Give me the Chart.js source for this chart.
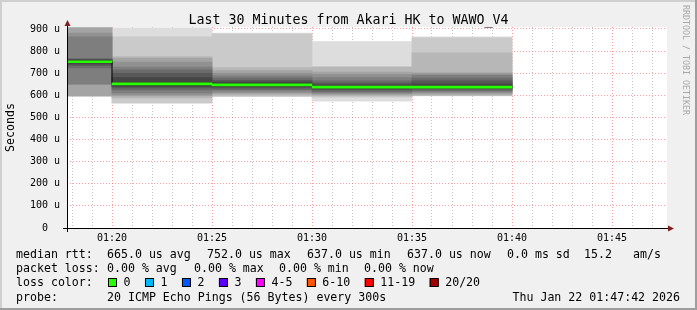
<!DOCTYPE html>
<html>
<head>
<meta charset="utf-8">
<script src="https://cdn.jsdelivr.net/npm/chart.js@4.4.0/dist/chart.umd.min.js"></script>
<style>
    html, body { margin: 0; padding: 0; background: #f0f0f0; }
    canvas { display: block; }
</style>
</head>
<body>
<canvas id="smokeChart" width="697" height="310"></canvas>
<script>
// time axis in minutes after 01:00, each block is one 300s step
var blockStarts = [15, 20, 25, 30, 35];
var blockEnd = 40;
var medianRtt = [752, 652, 647, 637, 637]; // us

// 20 sorted ping times (us) per step
var pings1 = [597, 597, 597, 597, 651, 651, 724, 735, 742, 748, 756, 760, 763, 766, 864, 882, 905, 905, 905, 905];
var pings2 = [565, 566, 588, 597, 602, 611, 624, 633, 640, 646, 658, 680, 700, 715, 728, 750, 769, 775, 864, 905];
var pings3 = [594, 595, 600, 606, 612, 620, 626, 632, 638, 642, 652, 660, 668, 678, 688, 700, 712, 725, 878, 882];
var pings4 = [574, 592, 597, 602, 607, 612, 618, 624, 629, 633, 641, 648, 655, 665, 680, 695, 705, 728, 730, 843];
var pings5 = [597, 598, 600, 605, 611, 616, 622, 628, 632, 634, 640, 652, 665, 678, 690, 697, 702, 792, 860, 865];

var yMajorValues = [0, 100, 200, 300, 400, 500, 600, 700, 800, 900];
var yTickLabels = ['0  ', '100 u', '200 u', '300 u', '400 u', '500 u', '600 u', '700 u', '800 u', '900 u'];
var xMajorValues = [20, 25, 30, 35, 40, 45];
var xTickLabels = ['01:20', '01:25', '01:30', '01:35', '01:40', '01:45'];

var lossLabels = ['0', '1', '2', '3', '4-5', '6-10', '11-19', '20/20'];
var lossColors = ['#26ff00', '#00b8ff', '#0059ff', '#5e00ff', '#ff00ff', '#ff5500', '#ff0000', '#a10000'];

var smokeGrays = ['#dddddd', '#cacaca', '#b7b7b7', '#a4a4a4', '#919191', '#7e7e7e', '#6b6b6b', '#585858', '#454545', '#323232'];

var MONO = '"DejaVu Sans Mono", monospace';
var STEP_PX = 100; // one 5 minute step at 20 px per minute

var blocks = [pings1, pings2, pings3, pings4, pings5];
var datasets = [];

for (var k = 0; k < 10; k++) {
    datasets.push({
        type: 'bar',
        data: blocks.map(function (p, b) {
            return { x: blockStarts[b] + 2.5, y: [p[k], p[19 - k]] };
        }),
        backgroundColor: smokeGrays[k],
        borderWidth: 0,
        barThickness: STEP_PX,
        grouped: false,
        clip: 0,
        order: 20 - k
    });
}

// thin black step joining the medians
datasets.push({
    type: 'line',
    data: blockStarts.concat([blockEnd]).map(function (t, i) {
        return { x: t, y: medianRtt[Math.min(i, medianRtt.length - 1)] };
    }),
    stepped: 'before',
    borderColor: '#000000',
    borderWidth: 1,
    pointRadius: 0,
    fill: false,
    clip: 0,
    order: 2
});

// green median (0 loss colour)
datasets.push({
    type: 'bar',
    data: medianRtt.map(function (m, b) {
        return { x: blockStarts[b] + 2.5, y: [m - 4.5, m + 4.5] };
    }),
    backgroundColor: lossColors[0],
    borderWidth: 0,
    barThickness: STEP_PX,
    grouped: false,
    clip: 0,
    order: 1
});

var frame = {
    id: 'frame',
    beforeDraw: function (chart) {
        var c = chart.ctx, a = chart.chartArea, w = chart.width, h = chart.height;
        c.save();
        c.fillStyle = '#f0f0f0';
        c.fillRect(0, 0, w, h);
        c.fillStyle = '#cfcfcf';
        c.fillRect(0, 0, w, 2);
        c.fillRect(0, 0, 2, h);
        c.fillStyle = '#9e9e9e';
        c.fillRect(0, h - 2, w, 2);
        c.fillRect(w - 2, 0, 2, h);
        c.fillStyle = '#ffffff';
        c.fillRect(a.left, a.top, a.right - a.left, a.bottom - a.top);
        c.restore();
    },
    afterDraw: function (chart) {
        var c = chart.ctx, a = chart.chartArea;
        c.save();
        // axes
        c.strokeStyle = '#000000';
        c.lineWidth = 1;
        c.beginPath();
        c.moveTo(a.left - 4, a.bottom + 0.5);
        c.lineTo(a.right + 2, a.bottom + 0.5);
        c.moveTo(a.left + 0.5, a.bottom + 4);
        c.lineTo(a.left + 0.5, a.top - 2);
        c.stroke();
        c.fillStyle = '#7f1f1f';
        c.beginPath();
        c.moveTo(a.right + 1, a.bottom - 2.5);
        c.lineTo(a.right + 7, a.bottom + 0.5);
        c.lineTo(a.right + 1, a.bottom + 3.5);
        c.fill();
        c.beginPath();
        c.moveTo(a.left - 2.5, a.top - 1);
        c.lineTo(a.left + 0.5, a.top - 7);
        c.lineTo(a.left + 3.5, a.top - 1);
        c.fill();

        // title
        c.fillStyle = '#000000';
        c.font = '13.3px ' + MONO;
        c.textAlign = 'center';
        c.textBaseline = 'alphabetic';
        c.fillText('Last 30 Minutes from Akari HK to WAWO_V4', 348.5, 24);

        // vertical label
        c.save();
        c.font = '11.6px ' + MONO;
        c.translate(14, 127.5);
        c.rotate(-Math.PI / 2);
        c.textAlign = 'center';
        c.fillText('Seconds', 0, 0);
        c.restore();

        // watermark
        c.save();
        c.font = '8.3px ' + MONO;
        c.fillStyle = '#a8a8a8';
        c.translate(685, 5);
        c.rotate(Math.PI / 2);
        c.textAlign = 'left';
        c.textBaseline = 'middle';
        c.fillText('RRDTOOL / TOBI OETIKER', 0, 0);
        c.restore();

        // legend
        c.font = '11.6px ' + MONO;
        c.textAlign = 'left';
        c.fillStyle = '#000000';
        var r1 = 258, r2 = 272, r3 = 286, r4 = 301;
        var row1 = [['median rtt:', 16], ['665.0 us avg', 107], ['752.0 us max', 207], ['637.0 us min', 307],
                    ['637.0 us now', 407], ['0.0 ms sd', 507], ['15.2', 584], ['am/s', 633]];
        row1.forEach(function (s) { c.fillText(s[0], s[1], r1); });
        var row2 = [['packet loss:', 16], ['0.00 % avg', 107], ['0.00 % max', 194], ['0.00 % min', 279], ['0.00 % now', 364]];
        row2.forEach(function (s) { c.fillText(s[0], s[1], r2); });
        c.fillText('loss color:', 16, r3);
        var x = 108;
        lossLabels.forEach(function (lab, i) {
            c.fillStyle = lossColors[i];
            c.fillRect(x, r3 - 8, 9, 9);
            c.strokeStyle = '#000000';
            c.strokeRect(x + 0.5, r3 - 7.5, 8, 8);
            c.fillStyle = '#000000';
            c.fillText(lab, x + 15.5, r3);
            x = x + 15.5 + c.measureText(lab).width + 14.5;
        });
        c.fillText('probe:', 16, r4);
        c.fillText('20 ICMP Echo Pings (56 Bytes) every 300s', 107, r4);
        c.textAlign = 'right';
        c.fillText('Thu Jan 22 01:47:42 2026', 680, r4);
        c.restore();
    }
};

var ctx = document.getElementById('smokeChart').getContext('2d');
var chart = new Chart(ctx, {
    type: 'bar',
    data: { datasets: datasets },
    options: {
        responsive: false,
        animation: false,
        devicePixelRatio: 1,
        layout: { padding: { left: 0, top: 27, right: 30, bottom: 0 } },
        plugins: { legend: { display: false }, tooltip: { enabled: false } },
        scales: {
            x: {
                type: 'linear',
                min: 17.75,
                max: 47.75,
                offset: false,
                z: 1,
                afterFit: function (s) { s.height = 82; },
                afterBuildTicks: function (s) {
                    var t = [];
                    for (var m = 18; m <= 47; m++) t.push({ value: m });
                    s.ticks = t;
                },
                grid: {
                    offset: false,
                    drawTicks: false,
                    color: function (c) {
                        return xMajorValues.indexOf(c.tick.value) >= 0 ? 'rgba(255,95,95,0.6)' : 'rgba(140,140,140,0.5)';
                    }
                },
                border: { display: false, dash: [1, 2] },
                ticks: {
                    autoSkip: false,
                    maxRotation: 0,
                    padding: 4,
                    color: '#000000',
                    font: { family: MONO, size: 10 },
                    callback: function (v) {
                        var i = xMajorValues.indexOf(v);
                        return i >= 0 ? xTickLabels[i] : '';
                    }
                }
            },
            y: {
                type: 'linear',
                min: 0,
                max: 909,
                z: 1,
                afterFit: function (s) { s.width = 67; },
                afterBuildTicks: function (s) {
                    var t = [];
                    for (var v = 0; v <= 900; v += 50) t.push({ value: v });
                    s.ticks = t;
                },
                grid: {
                    drawTicks: false,
                    color: function (c) {
                        return yMajorValues.indexOf(c.tick.value) >= 0 ? 'rgba(255,95,95,0.6)' : 'rgba(140,140,140,0.5)';
                    }
                },
                border: { display: false, dash: [1, 2] },
                ticks: {
                    padding: 7,
                    color: '#000000',
                    font: { family: MONO, size: 10 },
                    callback: function (v) {
                        var i = yMajorValues.indexOf(v);
                        return i >= 0 ? yTickLabels[i] : '';
                    }
                }
            }
        }
    },
    plugins: [frame]
});
</script>
</body>
</html>
